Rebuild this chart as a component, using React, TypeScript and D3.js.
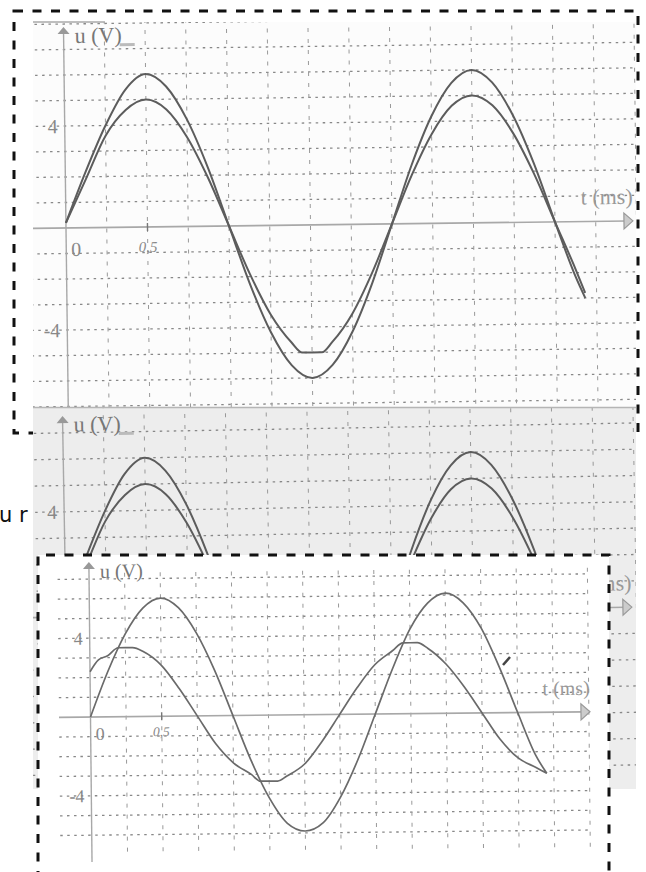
import * as d3 from 'd3';

// top scan: two curves in phase (t in ms, u in V)
const topOuterT = [0, 0.125, 0.25, 0.375, 0.5, 0.625, 0.75, 0.875, 1, 1.125, 1.25, 1.375, 1.5, 1.625, 1.75, 1.875, 2, 2.125, 2.25, 2.375, 2.5, 2.625, 2.75, 2.875, 3, 3.125, 3.18];
const topOuterU = [0.2, 2.2, 4.0, 5.4, 6.0, 5.5, 4.2, 2.3, 0, -2.3, -4.2, -5.5, -6.0, -5.5, -4.2, -2.3, 0, 2.3, 4.2, 5.5, 6.0, 5.5, 4.2, 2.3, 0, -2.2, -3.0];
const topInnerT = [0, 0.125, 0.25, 0.375, 0.5, 0.625, 0.75, 0.875, 1, 1.125, 1.25, 1.375, 1.44, 1.56, 1.625, 1.75, 1.875, 2, 2.125, 2.25, 2.375, 2.5, 2.625, 2.75, 2.875, 3, 3.125, 3.18];
const topInnerU = [0.2, 1.9, 3.6, 4.6, 5.0, 4.6, 3.5, 1.9, 0, -1.9, -3.5, -4.6, -5.0, -5.0, -4.6, -3.5, -1.9, 0, 1.9, 3.5, 4.6, 5.0, 4.6, 3.5, 1.9, 0, -1.9, -2.8];

// bottom scan: two curves out of phase
const botAT = [0, 0.125, 0.25, 0.375, 0.5, 0.625, 0.75, 0.875, 1, 1.125, 1.25, 1.375, 1.5, 1.625, 1.75, 1.875, 2, 2.125, 2.25, 2.375, 2.5, 2.625, 2.75, 2.875, 3, 3.125, 3.2];
const botAU = [0, 2.3, 4.2, 5.5, 6.0, 5.5, 4.2, 2.3, 0, -2.3, -4.2, -5.5, -5.9, -5.5, -4.2, -2.3, 0, 2.3, 4.3, 5.6, 6.1, 5.6, 4.3, 2.3, 0, -2.2, -3.1];
const botBT = [0, 0.06, 0.125, 0.2, 0.3, 0.375, 0.5, 0.625, 0.75, 0.875, 1, 1.125, 1.19, 1.31, 1.375, 1.5, 1.625, 1.75, 1.875, 2, 2.125, 2.2, 2.3, 2.375, 2.5, 2.625, 2.75, 2.875, 3, 3.125, 3.2];
const botBU = [2.3, 2.9, 3.1, 3.5, 3.5, 3.3, 2.6, 1.4, 0, -1.4, -2.4, -3.0, -3.35, -3.35, -3.1, -2.5, -1.35, 0, 1.35, 2.5, 3.2, 3.6, 3.6, 3.3, 2.5, 1.35, 0, -1.35, -2.3, -2.8, -3.1];

const yTickValues = [4, -4];
const yTickLabels = ['4', '-4'];
const xTickValue = 0.5;
const xTickLabel = '0,5';
const yTitle = 'u (V)';
const xTitle = 't (ms)';

type Series = { t: number[]; u: number[] };

type GraphProps = {
  id: string;
  clip: [number, number, number, number];
  bg: string;
  ox: number;
  oy: number;
  kx: number;
  kv: number;
  rot: number;
  gridL: number;
  gridR: number;
  gridT: number;
  gridB: number;
  axisR: number;
  axisT: number;
  series: Series[];
  curve: string;
  curveW: number;
  fs: number;
  titleFs: number;
  xLabelDy: number;
  smudge?: boolean;
  hidden?: boolean; // labels that sit under another sheet
};

const serif = '"Liberation Serif", "DejaVu Serif", serif';

function Graph(p: GraphProps) {
  const x = d3.scaleLinear().domain([0, 1]).range([p.ox, p.ox + p.kx]);
  const y = d3.scaleLinear().domain([0, 1]).range([p.oy, p.oy - p.kv]);
  const line = d3
    .line<[number, number]>()
    .x((d) => x(d[0]))
    .y((d) => y(d[1]))
    .curve(d3.curveMonotoneX);
  const vs = d3.range(-8, 9).filter((v) => v !== 0 && y(v) >= p.gridT - 1 && y(v) <= p.gridB + 1);
  const ks = d3.range(1, 16).map((k) => k * 0.25).filter((t) => x(t) <= p.gridR + 1);
  const [cx, cy, cw, ch] = p.clip;
  const ticks = p.hidden ? [0] : [0, 1];
  return (
    <g>
      <clipPath id={p.id}>
        <rect x={cx} y={cy} width={cw} height={ch} />
      </clipPath>
      <rect x={cx} y={cy} width={cw} height={ch} fill={p.bg} />
      <g clipPath={`url(#${p.id})`}>
        <g transform={`rotate(${p.rot} ${p.ox} ${p.oy})`}>
          {vs.map((v) => (
            <line key={'h' + v} x1={p.gridL} x2={p.gridR} y1={y(v)} y2={y(v)}
              stroke="#888" strokeWidth={1.3} strokeDasharray="2.5,4.5" />
          ))}
          {ks.map((t) => (
            <line key={'v' + t} x1={x(t)} x2={x(t)} y1={p.gridT} y2={p.gridB}
              stroke="#999" strokeWidth={1} strokeDasharray="4,7" />
          ))}
          {/* axes */}
          <line x1={p.gridL} x2={p.axisR - 6} y1={p.oy} y2={p.oy} stroke="#a8a8a8" strokeWidth={1.6} />
          <line x1={p.ox} x2={p.ox} y1={p.axisT + 4} y2={p.gridB + 10} stroke="#a8a8a8" strokeWidth={1.4} />
          <path d={`M${p.axisR},${p.oy} L${p.axisR - 9},${p.oy - 8} L${p.axisR - 9},${p.oy + 8} Z`}
            fill="#ccc" stroke="#999" strokeWidth={1.2} />
          <path d={`M${p.ox},${p.axisT} L${p.ox - 6},${p.axisT + 7} L${p.ox + 6},${p.axisT + 7} Z`} fill="#999" />
          <line x1={x(xTickValue)} x2={x(xTickValue)} y1={p.oy - 4} y2={p.oy + 4} stroke="#777" strokeWidth={1.4} />
          {/* curves */}
          {p.series.map((s, i) => (
            <path key={i} d={line(s.t.map((t, j) => [t, s.u[j]] as [number, number])) || ''}
              fill="none" stroke={p.curve} strokeWidth={p.curveW} strokeLinejoin="round" />
          ))}
          {/* labels */}
          <text x={p.ox + 11} y={p.axisT + 16} fontFamily={serif} fontSize={p.titleFs} fill="#777">{yTitle}</text>
          {p.smudge && <rect x={p.ox + 56} y={p.axisT + 17} width={15} height={3} fill="#bbb" />}
          {ticks.map((i) => (
            <text key={i} x={p.ox - 7} y={y(yTickValues[i]) + p.fs * 0.35} textAnchor="end" fontFamily={serif}
              fontSize={p.fs} fill="#888">{yTickLabels[i]}</text>
          ))}
          {!p.hidden && (
            <>
              <text x={p.ox + 5} y={p.oy + p.xLabelDy} fontFamily={serif} fontSize={p.fs} fill="#888">0</text>
              <text x={x(xTickValue) - 9} y={p.oy + p.xLabelDy - 3} fontFamily={serif} fontStyle="italic"
                fontSize={p.fs * 0.75} fill="#888">{xTickLabel}</text>
            </>
          )}
          <text x={p.axisR} y={p.oy - 17} textAnchor="end" fontFamily={serif} fontSize={p.titleFs} fill="#999">{xTitle}</text>
        </g>
      </g>
    </g>
  );
}

export default function App() {
  const topSeries = [
    { t: topOuterT, u: topOuterU },
    { t: topInnerT, u: topInnerU },
  ];
  const botSeries = [
    { t: botAT, u: botAU },
    { t: botBT, u: botBU },
  ];
  return (
    <svg width={646} height={872} viewBox="0 0 646 872"
      style={{ position: 'absolute', left: 0, top: 0, background: '#fff' }}>
      <rect width={646} height={872} fill="#fff" />
      <text x={-1} y={522} fontFamily='"DejaVu Sans", sans-serif' fontSize={21} fill="#111">u r</text>

      {/* top scan */}
      <Graph id="c-top" clip={[33, 22, 603, 386]} bg="#fcfcfc" ox={66} oy={228} kx={163} kv={25.5} rot={-0.72}
        gridL={30} gridR={640} gridT={20} gridB={412} axisR={633} axisT={27}
        series={topSeries} curve="#5c5c5c" curveW={2} fs={20} titleFs={22} xLabelDy={28} smudge />
      <line x1={33} x2={105} y1={22} y2={22} stroke="#aaa" strokeWidth={1.5} />
      <rect x={14} y={11} width={624} height={422} fill="none" stroke="#111" strokeWidth={3} strokeDasharray="9,9.5" />

      {/* middle scan, mostly hidden */}
      <Graph id="c-mid" clip={[33, 407, 603, 382]} bg="#ededed" ox={66} oy={617} kx={163} kv={26.3} rot={-1.0}
        gridL={30} gridR={640} gridT={405} gridB={800} axisR={632} axisT={416}
        series={topSeries} curve="#5c5c5c" curveW={2} fs={20} titleFs={22} xLabelDy={28} smudge hidden />
      <line x1={33} x2={636} y1={407.5} y2={407.5} stroke="#b5b5b5" strokeWidth={1.5} />

      {/* bottom scan */}
      <path d="M38,880 V555 H609 V880 Z" fill="#fff" />
      <Graph id="c-bot" clip={[40, 557, 567, 315]} bg="#fff" ox={90.5} oy={717} kx={142.4} kv={19.7} rot={-0.6}
        gridL={59} gridR={590} gridT={573} gridB={852} axisR={590} axisT={562}
        series={botSeries} curve="#6a6a6a" curveW={1.7} fs={18} titleFs={20} xLabelDy={23} />
      <path d="M503,665 L510,657" stroke="#444" strokeWidth={2.5} />
      <path d="M38,880 V555 H609 V880" fill="none" stroke="#111" strokeWidth={3} strokeDasharray="9,9.5" />
    </svg>
  );
}
